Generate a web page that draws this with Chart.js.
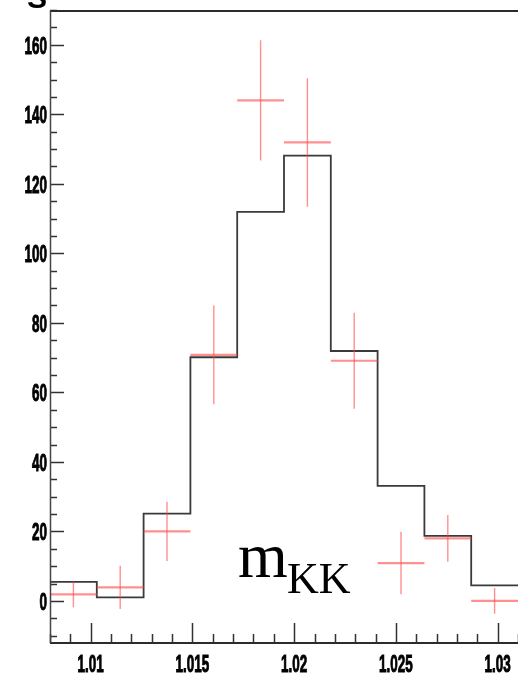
<!DOCTYPE html>
<html>
<head>
<meta charset="utf-8">
<script src="https://cdn.jsdelivr.net/npm/chart.js@4"></script>
<style>
  html, body { margin: 0; padding: 0; background: #fff; }
  #wrap { width: 518px; height: 678px; position: relative; }
</style>
</head>
<body>
<div id="wrap"><canvas id="c" width="518" height="678"></canvas></div>
<script>
// K+K- invariant mass histogram: 10 bins of 0.0023 GeV from 1.008 to 1.031
const binEdges = [1.008, 1.0103, 1.0126, 1.0149, 1.0172, 1.0195, 1.0218, 1.0241, 1.0264, 1.0287, 1.031];
const mcCounts = [5.5, 1.0, 25.1, 70.1, 111.9, 128.1, 71.9, 33.1, 18.7, 4.5];
const dataCounts = [1.9, 3.9, 20.0, 70.8, 144.0, 131.9, 69.1, 10.9, 18.0, 0.0];
const dataErrors = [3.7, 6.2, 8.5, 14.2, 17.3, 18.5, 13.8, 9.0, 6.7, 3.7];
const xTickValues = [1.01, 1.015, 1.02, 1.025, 1.03];
const xTickLabels = ['1.01', '1.015', '1.02', '1.025', '1.03'];
const yTickValues = [0, 20, 40, 60, 80, 100, 120, 140, 160];
const yTickLabels = ['0', '20', '40', '60', '80', '100', '120', '140', '160'];

// simulated histogram outline: one point per bin left edge, closing at the last edge
const mcOutline = mcCounts.map((v, i) => ({ x: binEdges[i], y: v }));
mcOutline.push({ x: binEdges[binEdges.length - 1], y: mcCounts[mcCounts.length - 1] });

// data crosses: horizontal bin-width bars and vertical error bars, gaps between them
const dataHoriz = [];
const dataVert = [];
dataCounts.forEach((v, i) => {
  const lo = binEdges[i], hi = binEdges[i + 1], c = (lo + hi) / 2;
  dataHoriz.push({ x: lo, y: v }, { x: hi, y: v }, { x: c, y: null });
  dataVert.push({ x: c, y: v - dataErrors[i] }, { x: c, y: v + dataErrors[i] }, { x: c, y: null });
});

const LABEL_FONT = 'bold 24px "Liberation Sans", Arial, sans-serif';
const LABEL_SQUEEZE = 0.56;

function squeezedText(ctx, text, x, y, align) {
  ctx.save();
  ctx.translate(x, y);
  ctx.scale(LABEL_SQUEEZE, 1);
  ctx.textAlign = align;
  ctx.lineWidth = 1;
  ctx.strokeStyle = '#000';
  ctx.fillText(text, 0, 0);
  ctx.strokeText(text, 0, 0);
  ctx.restore();
}

// ROOT-style frame with inward ticks and condensed bold labels
const rootAxes = {
  id: 'rootAxes',
  afterDraw(chart) {
    const { ctx, chartArea: a, scales: { x, y } } = chart;
    ctx.save();

    ctx.strokeStyle = '#333';
    ctx.lineWidth = 1.5;
    ctx.beginPath();
    // y axis ticks every 5, major every 20
    for (let k = -2; k <= 34; k++) {
      const v = k * 5;
      const py = Math.round(y.getPixelForValue(v)) + 0.5;
      const len = (v % 20 === 0) ? 14 : 7;
      ctx.moveTo(a.left, py);
      ctx.lineTo(a.left + len, py);
    }
    // x axis ticks every 0.001, major every 0.005
    for (let k = 1008; k <= 1031; k++) {
      const px = Math.round(x.getPixelForValue(k / 1000)) + 0.5;
      const len = (k % 5 === 0) ? 20 : 9;
      ctx.moveTo(px, a.bottom);
      ctx.lineTo(px, a.bottom - len);
    }
    ctx.stroke();

    // frame
    ctx.strokeStyle = '#2e2a2a';
    ctx.lineWidth = 2;
    ctx.beginPath();
    ctx.moveTo(a.left, a.top + 1);
    ctx.lineTo(a.right, a.top + 1);
    ctx.moveTo(a.left, a.bottom);
    ctx.lineTo(a.right, a.bottom);
    ctx.stroke();
    ctx.strokeStyle = '#444';
    ctx.lineWidth = 1.5;
    ctx.beginPath();
    ctx.moveTo(a.left + 0.5, a.top);
    ctx.lineTo(a.left + 0.5, a.bottom);
    ctx.stroke();

    // labels
    ctx.fillStyle = '#000';
    ctx.font = LABEL_FONT;
    ctx.textBaseline = 'alphabetic';
    yTickValues.forEach((v, i) => {
      squeezedText(ctx, yTickLabels[i], a.left - 3, y.getPixelForValue(v) + 9, 'right');
    });
    xTickValues.forEach((v, i) => {
      squeezedText(ctx, xTickLabels[i], x.getPixelForValue(v), a.bottom + 29, 'center');
    });

    // axis title of the panel above, cut by the top edge
    ctx.font = 'bold 30px "Liberation Sans", Arial, sans-serif';
    ctx.textAlign = 'center';
    ctx.fillText('S', 37, 8);

    // variable name
    ctx.font = '64px "Liberation Serif", "Times New Roman", serif';
    ctx.textAlign = 'left';
    ctx.fillText('m', 238, 577);
    ctx.font = '44px "Liberation Serif", "Times New Roman", serif';
    ctx.fillText('KK', 287, 593);

    ctx.restore();
  }
};

new Chart(document.getElementById('c'), {
  type: 'line',
  data: {
    datasets: [
      {
        label: 'MC',
        data: mcOutline,
        stepped: 'before',
        borderColor: '#3a3a3a',
        borderWidth: 1.8,
        pointRadius: 0,
        fill: false,
        order: 1
      },
      {
        label: 'data',
        data: dataHoriz,
        spanGaps: false,
        borderColor: 'rgba(255, 70, 70, 0.6)',
        borderWidth: 2.2,
        pointRadius: 0,
        fill: false,
        order: 0
      },
      {
        label: 'data errors',
        data: dataVert,
        spanGaps: false,
        borderColor: 'rgba(255, 70, 70, 0.6)',
        borderWidth: 1.4,
        pointRadius: 0,
        fill: false,
        order: 0
      }
    ]
  },
  options: {
    responsive: false,
    devicePixelRatio: 1,
    animation: false,
    layout: { padding: { top: 10, left: 0, right: 0, bottom: 0 } },
    plugins: { legend: { display: false }, tooltip: { enabled: false } },
    scales: {
      x: {
        type: 'linear',
        min: 1.008,
        max: 1.031,
        grid: { display: false },
        border: { display: false },
        ticks: { display: false },
        afterFit(scale) { scale.height = 35; }
      },
      y: {
        type: 'linear',
        min: -12.1,
        max: 170,
        grid: { display: false },
        border: { display: false },
        ticks: { display: false },
        afterFit(scale) { scale.width = 50; }
      }
    }
  },
  plugins: [rootAxes]
});
</script>
</body>
</html>
